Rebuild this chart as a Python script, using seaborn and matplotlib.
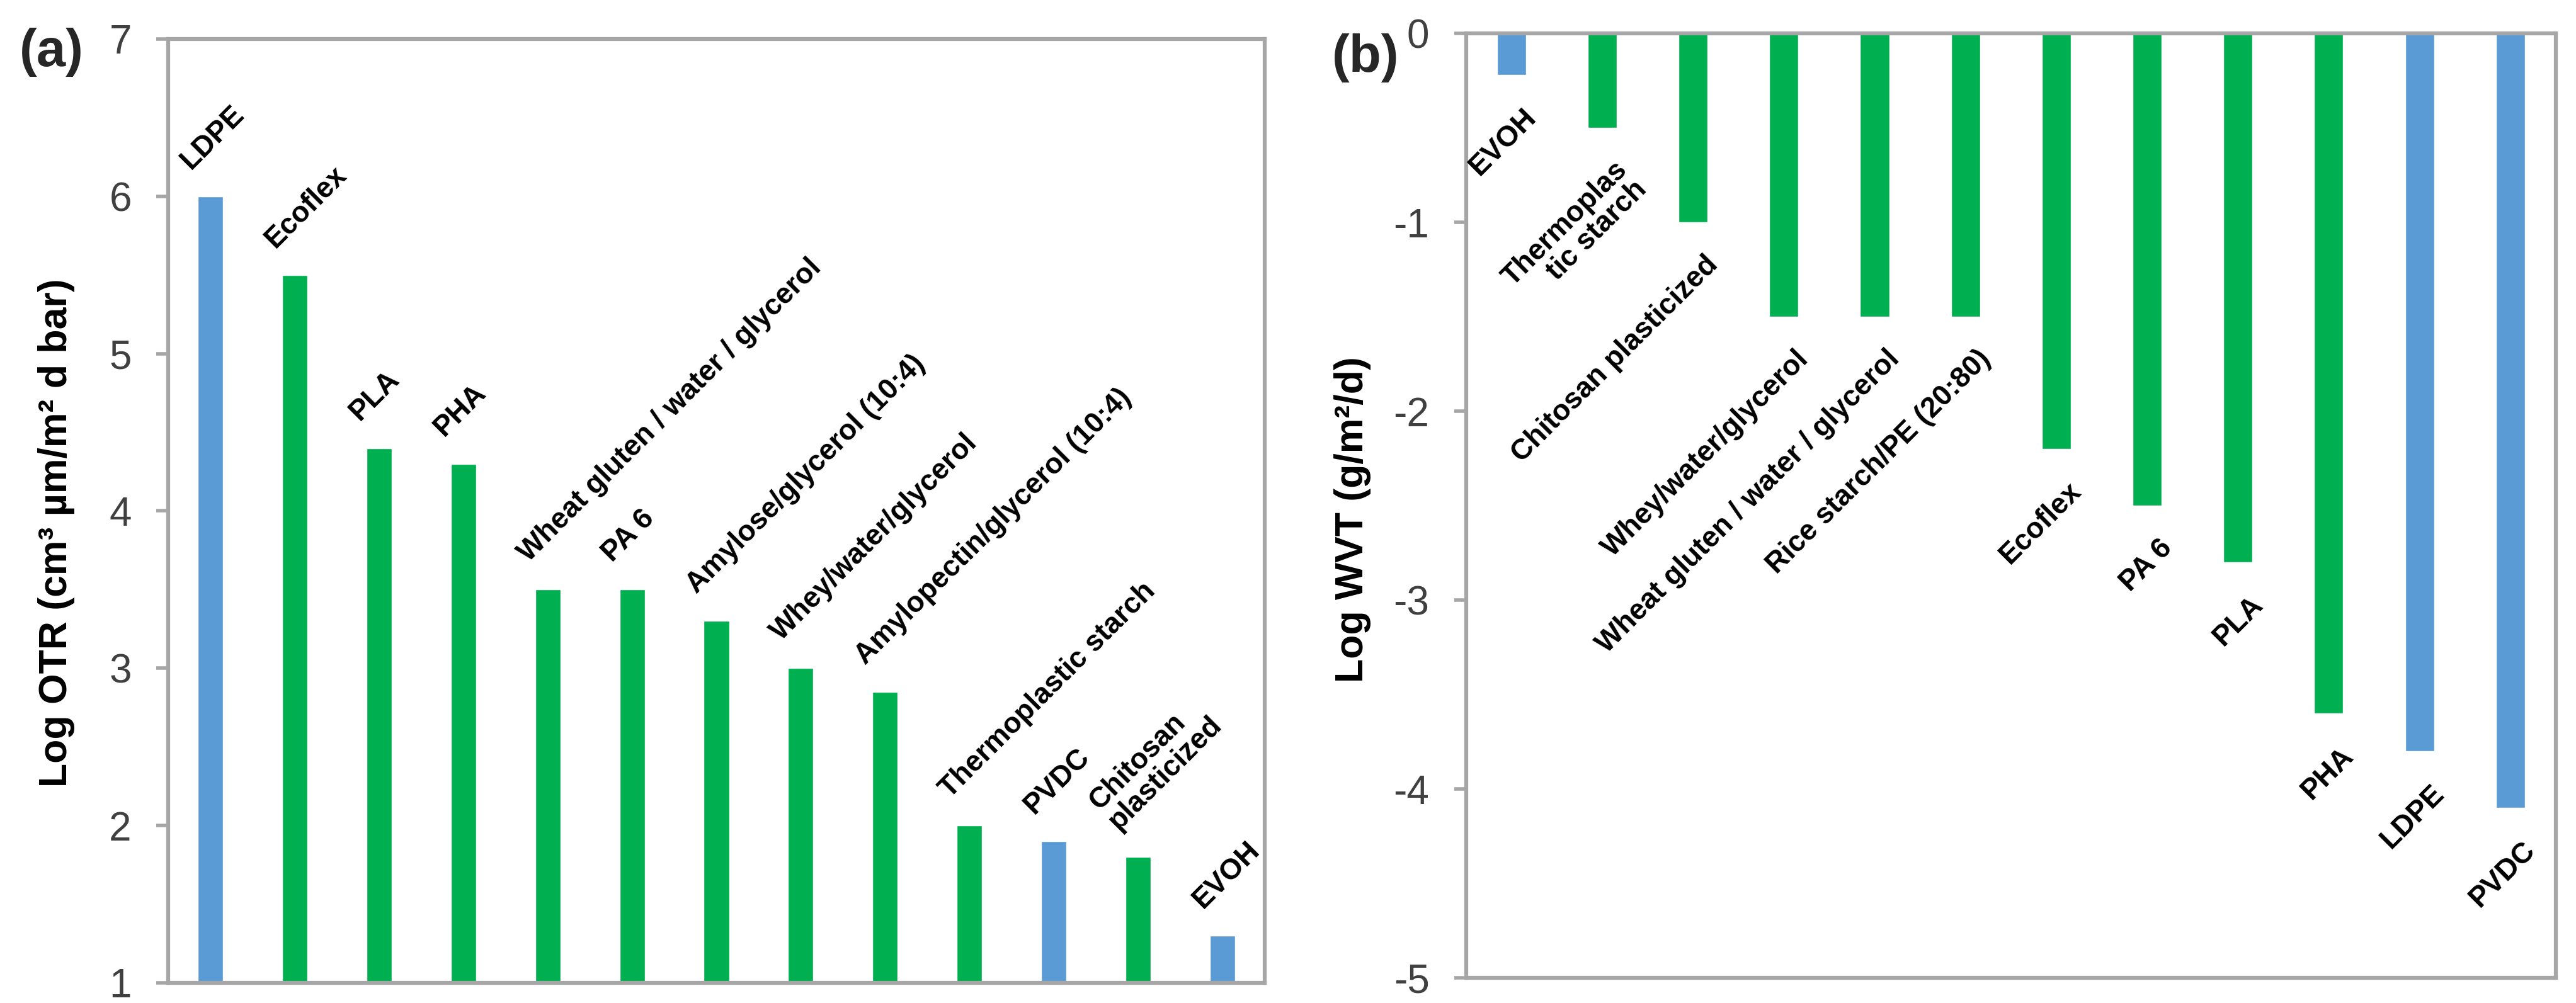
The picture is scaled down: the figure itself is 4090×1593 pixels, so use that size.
import numpy as np
import pandas as pd
import matplotlib

matplotlib.use("Agg")
import matplotlib.pyplot as plt
import seaborn as sns

# данные панели (a): log OTR
otr_names = ["LDPE", "Ecoflex", "PLA", "PHA", "Wheat gluten / water / glycerol", "PA 6",
             "Amylose/glycerol (10:4)", "Whey/water/glycerol", "Amylopectin/glycerol (10:4)",
             "Thermoplastic starch", "PVDC", "Chitosan\nplasticized", "EVOH"]
otr_values = [6.0, 5.5, 4.4, 4.3, 3.5, 3.5, 3.3, 3.0, 2.85, 2.0, 1.9, 1.8, 1.3]
otr_kind = ["petro", "bio", "bio", "bio", "bio", "bio", "bio", "bio", "bio", "bio",
            "petro", "bio", "petro"]

# данные панели (b): log WVT
wvt_names = ["EVOH", "Thermoplas\ntic starch", "Chitosan plasticized", "Whey/water/glycerol",
             "Wheat gluten / water / glycerol", "Rice starch/PE (20:80)", "Ecoflex", "PA 6",
             "PLA", "PHA", "LDPE", "PVDC"]
wvt_values = [-0.22, -0.5, -1.0, -1.5, -1.5, -1.5, -2.2, -2.5, -2.8, -3.6, -3.8, -4.1]
wvt_kind = ["petro", "bio", "bio", "bio", "bio", "bio", "bio", "bio", "bio", "bio",
            "petro", "petro"]

palette = {"petro": "#5B9BD5", "bio": "#00B050"}
spine_col = "#A6A6A6"
tick_col = "#404040"

sns.set_style("white")
plt.rcParams["font.family"] = ["Liberation Sans", "DejaVu Sans"]
plt.rcParams["axes.unicode_minus"] = False

fig = plt.figure(figsize=(40.91, 15.93), dpi=100)
ax_a = fig.add_axes([0.0653, 0.0201, 0.4255, 0.9410])
ax_b = fig.add_axes([0.5690, 0.0251, 0.4229, 0.9416])


def style_axis(ax):
    for s in ax.spines.values():
        s.set_visible(True)
        s.set_color(spine_col)
        s.set_linewidth(4.5)
    ax.tick_params(axis="y", which="major", direction="out", length=14, width=4,
                   color=spine_col, labelsize=46, labelcolor=tick_col, pad=28, left=True)
    ax.tick_params(axis="x", bottom=False, labelbottom=False)
    ax.set_xlabel("")
    ax.grid(False)


# (a)
df_a = pd.DataFrame({"name": otr_names, "value": otr_values, "kind": otr_kind})
sns.barplot(data=df_a, x="name", y="value", hue="kind", palette=palette, order=otr_names,
            dodge=False, width=0.30, legend=False, saturation=1, bottom=0, ax=ax_a)
ax_a.set_ylim(1, 7)
ax_a.set_xlim(-0.5, len(otr_names) - 0.5)
ax_a.set_yticks(range(1, 8))
style_axis(ax_a)
for i, (name, v) in enumerate(zip(otr_names, otr_values)):
    ax_a.text(i - 0.18, v + 0.14, name, rotation=45, rotation_mode="anchor",
              ha="left", va="bottom", fontsize=33, fontweight="bold", color="black",
              linespacing=1.0)
ax_a.set_ylabel("Log OTR (cm³ µm/m² d bar)", fontsize=45, fontweight="bold",
                color="black", va="center")
ax_a.yaxis.set_label_coords(-0.102, 0.477)
fig.text(0.020, 0.948, "(a)", fontsize=60, fontweight="bold", ha="center", va="center")

# (b)
df_b = pd.DataFrame({"name": wvt_names, "value": wvt_values, "kind": wvt_kind})
sns.barplot(data=df_b, x="name", y="value", hue="kind", palette=palette, order=wvt_names,
            dodge=False, width=0.32, legend=False, saturation=1, ax=ax_b)
ax_b.set_ylim(-5, 0)
ax_b.set_xlim(-0.5, len(wvt_names) - 0.5)
ax_b.set_yticks(range(-5, 1))
style_axis(ax_b)
for i, (name, v) in enumerate(zip(wvt_names, wvt_values)):
    ax_b.text(i + 0.12, v - 0.15, name, rotation=45, rotation_mode="anchor",
              ha="right", va="top", fontsize=33, fontweight="bold", color="black",
              multialignment="right", linespacing=1.0)
ax_b.set_ylabel("Log WVT (g/m²/d)", fontsize=45, fontweight="bold", color="black",
                va="center")
ax_b.yaxis.set_label_coords(-0.104, 0.485)
fig.text(0.530, 0.942, "(b)", fontsize=60, fontweight="bold", ha="center", va="center")

fig.savefig("out.png", dpi=100)
plt.close(fig)
